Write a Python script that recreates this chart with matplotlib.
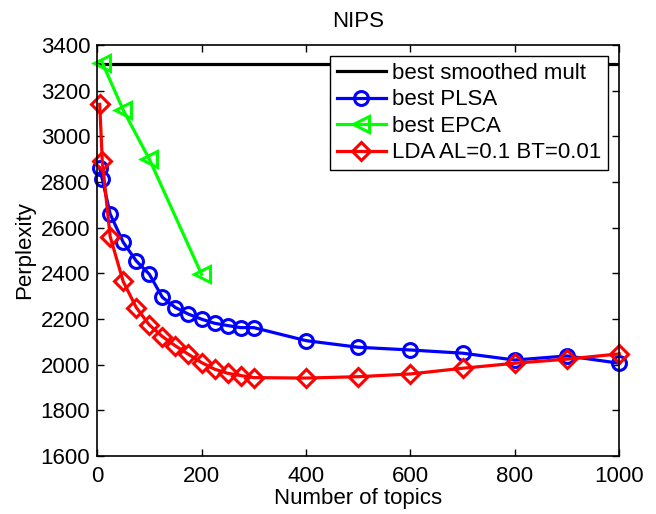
import numpy as np
import matplotlib
matplotlib.use('Agg')
import matplotlib.pyplot as plt

plt.rcParams['font.family'] = ['Liberation Sans', 'DejaVu Sans']

# best smoothed multinomial (flat)
mult_x = [0, 1000]
mult_y = [3315, 3315]

plsa_x = [5, 10, 25, 50, 75, 100, 125, 150, 175, 200, 225, 250, 275, 300,
          400, 500, 600, 700, 800, 900, 1000]
plsa_y = [2860, 2812, 2660, 2536, 2454, 2396, 2295, 2250, 2221, 2199, 2181,
          2171, 2162, 2162, 2105, 2076, 2064, 2050, 2020, 2038, 2006]

epca_x = [10, 50, 100, 200]
epca_y = [3323, 3115, 2900, 2396]

lda_x = [5, 10, 25, 50, 75, 100, 125, 150, 175, 200, 225, 250, 275, 300,
         400, 500, 600, 700, 800, 900, 1000]
lda_y = [3140, 2890, 2561, 2364, 2250, 2174, 2123, 2082, 2045, 2009, 1980,
         1962, 1952, 1943, 1941, 1947, 1959, 1984, 2006, 2024, 2047]

fs = 16
fig = plt.figure(figsize=(6.56, 5.14), dpi=100)
ax = fig.add_axes([0.148, 0.113, 0.796, 0.7995])

lw = 2.3
ax.plot(mult_x, mult_y, color='k', lw=lw, label='best smoothed mult')
ax.plot(plsa_x, plsa_y, color='b', lw=lw, marker='o', ms=10, mfc='none',
        mew=2.2, label='best PLSA', clip_on=False)
ax.plot(epca_x, epca_y, color=(0, 1, 0), lw=lw, marker='<', ms=12, mfc='none',
        mew=2.2, label='best EPCA', clip_on=False)
ax.plot(lda_x, lda_y, color='r', lw=lw, marker='D', ms=9, mfc='none',
        mew=2.2, label='LDA AL=0.1 BT=0.01', clip_on=False)

ax.set_xlim(0, 1000)
ax.set_ylim(1600, 3400)
ax.set_xticks(np.arange(0, 1001, 200))
ax.set_yticks(np.arange(1600, 3401, 200))
ax.tick_params(direction='in', top=True, right=True, labelsize=fs, length=5,
               width=1)
ax.tick_params(axis='x', pad=7)
ax.tick_params(axis='y', pad=5)
for s in ax.spines.values():
    s.set_linewidth(1.2)

ax.set_xlabel('Number of topics', fontsize=fs, labelpad=1)
ax.set_ylabel('Perplexity', fontsize=fs, labelpad=4)
ax.set_title('NIPS', fontsize=fs, pad=13)

leg = ax.legend(loc='upper right', fontsize=fs, frameon=True, fancybox=False,
                edgecolor='k', framealpha=1, borderpad=0.3, labelspacing=0.25,
                handlelength=2.2, handletextpad=0.3, borderaxespad=0.5)
leg.get_frame().set_linewidth(1.0)
leg.set_zorder(5)

fig.savefig('out.png', dpi=100)
